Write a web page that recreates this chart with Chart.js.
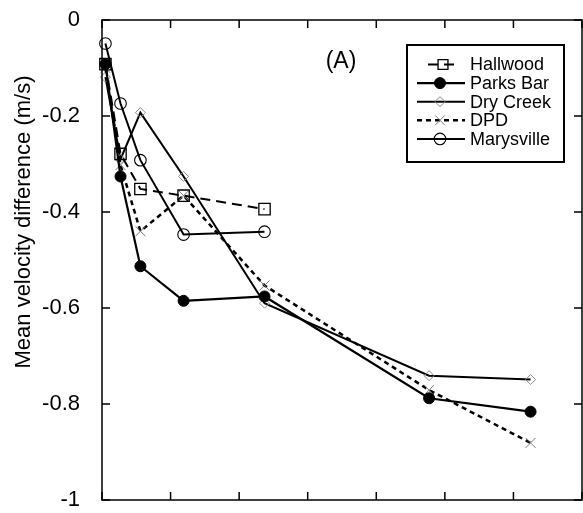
<!DOCTYPE html>
<html>
<head>
<meta charset="utf-8">
<script src="https://cdn.jsdelivr.net/npm/chart.js@4/dist/chart.umd.min.js"></script>
<style>
  html, body { margin: 0; padding: 0; background: #fff; }
  #wrap { width: 583px; height: 513px; }
</style>
</head>
<body>
<div id="wrap"><canvas id="c" width="583" height="513"></canvas></div>
<script>
// Sampling positions shared by the sites
const xValues = [0.05, 0.27, 0.56, 1.19, 2.37, 4.77, 6.25];

// Mean velocity difference (m/s) per site
const hallwood   = [-0.092, -0.279, -0.352, -0.366, -0.394];
const parksBar   = [-0.092, -0.326, -0.513, -0.585, -0.576, -0.788, -0.816];
const dryCreek   = [-0.119, -0.290, -0.193, -0.326, -0.590, -0.741, -0.749];
const dpd        = [-0.100, -0.302, -0.440, -0.366, -0.553, -0.771, -0.881];
const marysville = [-0.049, -0.174, -0.292, -0.447, -0.441];

const seriesNames = ['Hallwood', 'Parks Bar', 'Dry Creek', 'DPD', 'Marysville'];

// Axis ticks
const xTicks = [0, 1, 2, 3, 4, 5, 6, 7];
const yTicks = [0, -0.2, -0.4, -0.6, -0.8, -1];
const yTickLabels = ['0', '-0.2', '-0.4', '-0.6', '-0.8', '-1'];

const FONT = '"Liberation Sans", Arial, Helvetica, sans-serif';

function pts(vals) {
  return vals.map((v, i) => ({ x: xValues[i], y: v }));
}

const datasets = [
  { label: seriesNames[0], data: pts(hallwood), borderColor: '#000', borderWidth: 2,
    borderDash: [10, 6], pointStyle: 'rect', pointRadius: 8, pointBorderWidth: 1.3,
    pointBorderColor: '#000', pointBackgroundColor: 'rgba(0,0,0,0)' },
  { label: seriesNames[1], data: pts(parksBar), borderColor: '#000', borderWidth: 2.2,
    pointStyle: 'circle', pointRadius: 5.5, pointBorderWidth: 1,
    pointBorderColor: '#000', pointBackgroundColor: '#000' },
  { label: seriesNames[2], data: pts(dryCreek), borderColor: '#000', borderWidth: 2,
    pointStyle: 'rectRot', pointRadius: 5, pointBorderWidth: 1,
    pointBorderColor: '#8a8a8a', pointBackgroundColor: 'rgba(0,0,0,0)' },
  { label: seriesNames[3], data: pts(dpd), borderColor: '#000', borderWidth: 2.5,
    borderDash: [5, 4], pointStyle: 'crossRot', pointRadius: 7, pointBorderWidth: 1,
    pointBorderColor: '#7a7a7a', pointBackgroundColor: 'rgba(0,0,0,0)' },
  { label: seriesNames[4], data: pts(marysville), borderColor: '#000', borderWidth: 2,
    pointStyle: 'circle', pointRadius: 5.8, pointBorderWidth: 1.1,
    pointBorderColor: '#000', pointBackgroundColor: 'rgba(0,0,0,0)' }
];
datasets.forEach(d => { d.tension = 0; d.clip = false; d.fill = false; });

function drawMarker(ctx, ds, x, y) {
  const opts = {
    pointStyle: ds.pointStyle, radius: ds.pointRadius, rotation: 0,
    borderWidth: ds.pointBorderWidth
  };
  ctx.save();
  ctx.setLineDash([]);
  ctx.strokeStyle = ds.pointBorderColor;
  ctx.fillStyle = ds.pointBackgroundColor;
  ctx.lineWidth = ds.pointBorderWidth;
  Chart.helpers.drawPoint(ctx, opts, x, y);
  ctx.restore();
}

// Frame, inward ticks, panel tag, y title and the boxed legend
const decorations = {
  id: 'decorations',
  afterDraw(chart) {
    const ctx = chart.ctx;
    const a = chart.chartArea;
    const xs = chart.scales.x, ys = chart.scales.y;
    const tick = 8;
    ctx.save();
    ctx.strokeStyle = '#000';
    ctx.lineWidth = 1.5;
    ctx.setLineDash([]);
    ctx.strokeRect(a.left, a.top, a.right - a.left, a.bottom - a.top);
    ctx.beginPath();
    xTicks.forEach(v => {
      const px = xs.getPixelForValue(v);
      ctx.moveTo(px, a.bottom); ctx.lineTo(px, a.bottom - tick);
      ctx.moveTo(px, a.top); ctx.lineTo(px, a.top + tick);
    });
    yTicks.forEach(v => {
      const py = ys.getPixelForValue(v);
      ctx.moveTo(a.left, py); ctx.lineTo(a.left + tick, py);
      ctx.moveTo(a.right, py); ctx.lineTo(a.right - tick, py);
    });
    ctx.stroke();

    // panel tag
    ctx.fillStyle = '#000';
    ctx.font = '23px ' + FONT;
    ctx.textAlign = 'center';
    ctx.textBaseline = 'middle';
    ctx.fillText('(A)', 341, 62);

    // y axis title
    ctx.save();
    ctx.translate(24, 222);
    ctx.rotate(-Math.PI / 2);
    ctx.font = '22px ' + FONT;
    ctx.fillText('Mean velocity difference (m/s)', 0, 0);
    ctx.restore();

    // legend
    const box = { l: 407, t: 45, r: 564, b: 162 };
    ctx.fillStyle = '#fff';
    ctx.fillRect(box.l, box.t, box.r - box.l, box.b - box.t);
    ctx.lineWidth = 2;
    ctx.strokeStyle = '#000';
    ctx.strokeRect(box.l, box.t, box.r - box.l, box.b - box.t);
    const rowY0 = 64.5, rowStep = 18.6;
    chart.data.datasets.forEach((ds, i) => {
      const y = rowY0 + i * rowStep;
      let x1 = 417, x2 = 465;
      if (i === 0) { x1 = 428; x2 = 460; }
      const mid = (x1 + x2) / 2 - 1;
      ctx.save();
      ctx.strokeStyle = ds.borderColor;
      ctx.lineWidth = ds.borderWidth;
      ctx.setLineDash(ds.borderDash || []);
      ctx.beginPath();
      ctx.moveTo(x1, y); ctx.lineTo(x2, y);
      ctx.stroke();
      ctx.restore();
      const mds = Object.assign({}, ds, { pointRadius: Math.min(ds.pointRadius, 7) });
      drawMarker(ctx, mds, mid, y);
      ctx.fillStyle = '#000';
      ctx.font = '18px ' + FONT;
      ctx.textAlign = 'left';
      ctx.textBaseline = 'middle';
      ctx.fillText(ds.label, 470, y + 1);
    });
    ctx.restore();
  }
};

function noPad(s) {
  s.paddingTop = 0; s.paddingBottom = 0; s.paddingLeft = 0; s.paddingRight = 0;
}

new Chart(document.getElementById('c'), {
  type: 'line',
  data: { datasets },
  options: {
    responsive: false,
    animation: false,
    devicePixelRatio: 1,
    layout: { autoPadding: false, padding: { left: 0, right: 1, top: 20, bottom: 13 } },
    plugins: { legend: { display: false }, tooltip: { enabled: false } },
    scales: {
      x: {
        type: 'linear', min: 0, max: 7,
        ticks: { display: false, stepSize: 1, padding: 0 },
        grid: { display: false, drawTicks: false },
        border: { display: false },
        afterFit(s) { s.height = 0; noPad(s); }
      },
      y: {
        type: 'linear', min: -1, max: 0,
        afterBuildTicks(s) { s.ticks = yTicks.map(v => ({ value: v })); },
        ticks: {
          padding: 0, color: '#000',
          font: { family: FONT, size: 22 },
          callback(v) {
            const i = yTicks.findIndex(t => Math.abs(t - v) < 1e-9);
            return i >= 0 ? yTickLabels[i] : '';
          }
        },
        grid: { display: false, drawTicks: true, tickLength: 22 },
        border: { display: false },
        afterFit(s) { s.width = 102; noPad(s); }
      }
    }
  },
  plugins: [decorations]
});
</script>
</body>
</html>
